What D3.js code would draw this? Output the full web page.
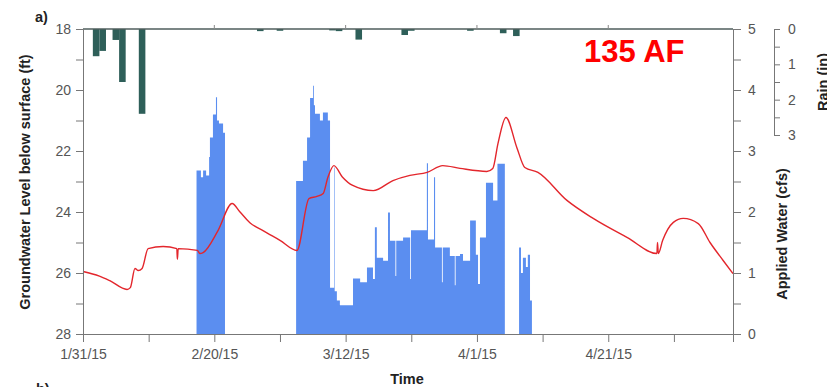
<!DOCTYPE html>
<html>
<head>
<meta charset="utf-8">
<script src="https://cdn.jsdelivr.net/npm/d3@7"></script>
<style>
  body { margin: 0; background: #fff; }
  svg { display: block; font-family: "Liberation Sans", Arial, sans-serif; }
  .tick text { fill: #555; font-size: 14px; }
  .axis path, .axis line { stroke: #777; }
  .lbl { font-weight: bold; font-size: 14.5px; fill: #222; }
</style>
</head>
<body>
<svg id="chart" width="827" height="387"></svg>
<script>
  // groundwater level below surface (ft)
  var gwTime = ["2015-01-31 00","2015-02-02 12","2015-02-04 02","2015-02-06 17","2015-02-07 05","2015-02-07 22","2015-02-08 10",
    "2015-02-09 00","2015-02-09 22","2015-02-12 05","2015-02-14 07","2015-02-14 09","2015-02-14 12",
    "2015-02-17 10","2015-02-17 19","2015-02-18 07","2015-02-20 14","2015-02-22 17","2015-02-23 22","2015-02-25 10",
    "2015-02-27 10","2015-03-02 00","2015-03-04 14","2015-03-06 10","2015-03-07 15","2015-03-08 14",
    "2015-03-09 07","2015-03-10 05","2015-03-11 12","2015-03-13 02","2015-03-16 05","2015-03-19 05","2015-03-21 19",
    "2015-03-24 10","2015-03-26 19","2015-03-29 10","2015-04-02 12","2015-04-03 10","2015-04-04 05",
    "2015-04-05 10","2015-04-07 02","2015-04-08 07","2015-04-10 07","2015-04-14 17","2015-04-18 17",
    "2015-04-23 22","2015-04-28 10","2015-04-28 12","2015-04-28 15","2015-04-29 07","2015-04-30 22",
    "2015-05-02 10","2015-05-04 17","2015-05-06 12","2015-05-08 12","2015-05-10 00"];
  var gwLevel = [25.95,26.10,26.25,26.54,26.48,25.85,25.92,
    25.85,25.20,25.13,25.20,25.55,25.20,
    25.26,25.36,25.33,24.60,23.72,24.00,24.35,
    24.61,24.93,25.26,23.56,23.49,23.39,
    22.87,22.48,22.85,23.13,23.30,22.97,22.80,
    22.70,22.48,22.57,22.67,22.57,21.75,
    20.90,21.89,22.54,22.70,23.62,24.21,
    24.84,25.36,25.00,25.36,24.93,24.34,
    24.21,24.38,25.00,25.59,26.02];

  // applied water (cfs), step values starting at each time
  var awTime = ["2015-02-17 07","2015-02-17 23","2015-02-18 07","2015-02-18 18","2015-02-19 05","2015-02-19 08",
    "2015-02-19 19","2015-02-20 06","2015-02-20 10","2015-02-20 17","2015-02-21 08","2015-02-21 15",
    "2015-03-04 11","2015-03-05 12","2015-03-06 03","2015-03-06 14","2015-03-07 01","2015-03-07 04",
    "2015-03-07 08","2015-03-08 02","2015-03-08 13","2015-03-09 07","2015-03-09 15","2015-03-10 06",
    "2015-03-10 08","2015-03-10 16","2015-03-11 03","2015-03-13 03","2015-03-14 05","2015-03-15 06",
    "2015-03-16 04","2015-03-16 11","2015-03-16 18","2015-03-17 17","2015-03-18 11","2015-03-18 18",
    "2015-03-19 14","2015-03-19 17","2015-03-20 18","2015-03-21 20","2015-03-21 23","2015-03-22 21",
    "2015-03-24 09","2015-03-24 13","2015-03-25 11","2015-03-25 15",
    "2015-03-26 16","2015-03-26 19","2015-03-27 21","2015-03-28 15","2015-03-28 18",
    "2015-03-29 10","2015-03-29 21","2015-03-30 23","2015-03-31 20","2015-04-01 04",
    "2015-04-01 11","2015-04-02 09","2015-04-03 11","2015-04-04 03","2015-04-05 06",
    "2015-04-07 10","2015-04-07 17","2015-04-08 00","2015-04-08 11","2015-04-08 18","2015-04-09 02","2015-04-09 09"];
  var awFlow = [2.68,2.57,2.68,2.60,2.90,3.22,
    3.60,3.88,3.50,3.45,3.30,0,
    2.51,2.84,3.22,3.87,4.07,3.75,
    3.61,3.50,3.63,3.50,0.76,2.73,
    0.70,0.55,0.47,0.91,0.85,1.09,
    0.90,1.75,1.25,1.20,1.99,1.53,
    0.95,1.53,1.58,0.90,1.70,1.70,
    2.80,1.55,2.57,1.42,
    0.85,1.42,1.28,0.80,1.28,
    1.31,1.20,1.86,1.30,0.82,
    1.58,2.48,2.19,2.79,0,
    1.42,1.00,1.25,1.10,1.30,0.55,0];

  // daily rain (in)
  var rainDay = ["2015-02-02","2015-02-03","2015-02-05","2015-02-06","2015-02-09","2015-02-27","2015-03-02",
    "2015-03-10","2015-03-11","2015-03-14","2015-03-21","2015-03-22","2015-03-31","2015-04-05","2015-04-07"];
  var rainIn = [0.77,0.62,0.31,1.50,2.40,0.06,0.05,0.04,0.06,0.30,0.17,0.05,0.05,0.12,0.20];

  var xTickLabels = ["1/31/15","2/20/15","3/12/15","4/1/15","4/21/15"];

  var parseT = d3.timeParse("%Y-%m-%d %H");
  var parseD = d3.timeParse("%Y-%m-%d");
  var parseL = d3.timeParse("%m/%d/%y");

  var svg = d3.select("#chart");
  var pL = 83, pR = 733, pT = 29, pB = 334;

  var t0 = parseL("1/31/15");
  var x = d3.scaleTime().domain([t0, d3.timeDay.offset(t0, 99)]).range([pL, pR]);
  var yGw = d3.scaleLinear().domain([18, 28]).range([pT, pB]);
  var yAw = d3.scaleLinear().domain([0, 5]).range([pB, pT]);
  var yRain = d3.scaleLinear().domain([0, 3]).range([pT, 135]);

  // applied water
  var aw = awTime.map(function(t, i) { return [parseT(t), awFlow[i]]; });
  svg.append("path")
    .datum(aw)
    .attr("fill", "#5b8ef0")
    .attr("d", d3.area().curve(d3.curveStepAfter)
      .x(function(d) { return x(d[0]); })
      .y0(yAw(0))
      .y1(function(d) { return yAw(d[1]); }));

  // rain bars
  svg.selectAll("rect.rain").data(rainDay)
    .enter().append("rect")
      .attr("class", "rain")
      .attr("x", function(d) { return x(d3.timeHour.offset(parseD(d), -12)); })
      .attr("width", function(d) { return x(d3.timeHour.offset(parseD(d), 12)) - x(d3.timeHour.offset(parseD(d), -12)); })
      .attr("y", yRain(0))
      .attr("height", function(d, i) { return yRain(rainIn[i]) - yRain(0); })
      .style("fill", "#2e5f59");

  // groundwater line
  var gw = gwTime.map(function(t, i) { return [parseT(t), gwLevel[i]]; });
  svg.append("path")
    .datum(gw)
    .attr("fill", "none")
    .attr("stroke", "#e3262c")
    .attr("stroke-width", 1.4)
    .attr("d", d3.line().curve(d3.curveMonotoneX)
      .x(function(d) { return x(d[0]); })
      .y(function(d) { return yGw(d[1]); }));

  // top frame line with small ticks
  var xTicks = d3.range(10).map(function(i) { return d3.timeDay.offset(t0, i * 10); });
  svg.append("line").attr("x1", pL).attr("x2", pR).attr("y1", pT).attr("y2", pT)
    .attr("stroke", "#4f5e5c").attr("stroke-width", 1.5);
  svg.selectAll("line.ttick").data(xTicks.filter(function(d, i) { return i % 2 == 0 && i > 0; }))
    .enter().append("line").attr("class", "ttick")
      .attr("x1", function(d) { return x(d); }).attr("x2", function(d) { return x(d); })
      .attr("y1", pT).attr("y2", pT - 4)
      .attr("stroke", "#888");

  // bottom axis
  svg.append("g").attr("class", "axis")
    .attr("transform", "translate(0," + pB + ")")
    .call(d3.axisBottom(x).tickValues(xTicks).tickSizeOuter(0).tickSize(8).tickPadding(7)
      .tickFormat(function(d) {
        var s = d3.timeFormat("%-m/%-d/%y")(d);
        return xTickLabels.indexOf(s) >= 0 ? s : "";
      }));

  // left axis
  svg.append("g").attr("class", "axis")
    .attr("transform", "translate(" + pL + ",0)")
    .call(d3.axisLeft(yGw).tickValues(d3.range(18, 29, 1)).tickSizeOuter(0).tickSize(7).tickPadding(5)
      .tickFormat(function(d) { return d % 2 == 0 ? d : ""; }));

  // right axis (applied water)
  svg.append("g").attr("class", "axis")
    .attr("transform", "translate(" + pR + ",0)")
    .call(d3.axisRight(yAw).tickValues(d3.range(0, 5.01, 0.5)).tickSizeOuter(0).tickSize(8).tickPadding(7)
      .tickFormat(function(d) { return d % 1 == 0 ? d : ""; }));

  // rain axis
  svg.append("g").attr("class", "axis")
    .attr("transform", "translate(774,0)")
    .call(d3.axisRight(yRain).tickValues(d3.range(0, 3.01, 0.5)).tickSizeOuter(0).tickSize(6).tickPadding(8)
      .tickFormat(function(d) { return d % 1 == 0 ? d : ""; }));

  svg.selectAll(".axis .domain").attr("stroke", "#777");

  // labels
  svg.append("text").attr("class", "lbl")
    .attr("transform", "translate(30,182) rotate(-90)")
    .attr("text-anchor", "middle")
    .text("Groundwater Level below surface (ft)");
  svg.append("text").attr("class", "lbl")
    .attr("transform", "translate(787,234) rotate(-90)")
    .attr("text-anchor", "middle")
    .text("Applied Water (cfs)");
  svg.append("text").attr("class", "lbl")
    .attr("transform", "translate(828,82) rotate(-90)")
    .attr("text-anchor", "middle")
    .text("Rain (in)");
  svg.append("text").attr("class", "lbl")
    .attr("x", 407).attr("y", 384)
    .attr("text-anchor", "middle")
    .text("Time");
  svg.append("text").attr("class", "lbl")
    .attr("x", 35).attr("y", 22)
    .text("a)");
  svg.append("text").attr("class", "lbl")
    .attr("x", 36).attr("y", 394)
    .text("b)");
  svg.append("text")
    .attr("x", 584).attr("y", 62)
    .style("font-weight", "bold").style("font-size", "31px").style("fill", "#ff0000")
    .text("135 AF");
</script>
</body>
</html>
